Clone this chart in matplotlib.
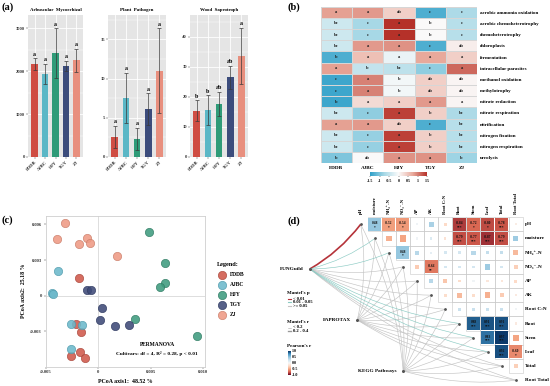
import numpy as np
import matplotlib
matplotlib.use("Agg")
import matplotlib.pyplot as plt
from matplotlib.colors import LinearSegmentedColormap, Normalize
from matplotlib.patches import Rectangle
from matplotlib.lines import Line2D
from matplotlib.path import Path
from matplotlib.patches import PathPatch
import matplotlib.cm as cm

plt.rcParams['font.family'] = ['Liberation Serif', 'DejaVu Serif']
plt.rcParams['font.weight'] = 'bold'
plt.rcParams['axes.titleweight'] = 'bold'

# ---------------- data ----------------
cultivars = ["FDDB", "AJBC", "HJY", "TGY", "ZJ"]
bar_colors = ["#CF4D43", "#5BB7C6", "#2F9B78", "#3C4C7C", "#E88F7E"]
pt_colors = ["#D0594B", "#6CB9CB", "#3E9B7E", "#3E4A78", "#EE9A84"]

am_mean = [2160, 1930, 2420, 2125, 2255]
am_err = [140, 240, 580, 115, 270]
am_letters = ["a", "a", "a", "a", "a"]
pp_mean = [2.6, 7.5, 2.3, 6.1, 11.0]
pp_err = [1.4, 3.2, 1.4, 2.0, 5.4]
pp_letters = ["a", "a", "a", "a", "a"]
ws_mean = [15.4, 15.5, 17.7, 26.5, 33.6]
ws_err = [3.4, 5.0, 4.0, 3.8, 9.3]
ws_letters = ["b", "b", "ab", "ab", "a"]

functions = ["aerobic ammonia oxidation", "aerobic chemoheterotrophy", "chemoheterotrophy",
             "chloroplasts", "fermentation", "intracellular parasites", "methanol oxidation",
             "methylotrophy", "nitrate reduction", "nitrate respiration", "nitrification",
             "nitrogen fixation", "nitrogen respiration", "ureolysis"]
heat_z = [
    [0.80, 0.85, 0.40, -1.30, -0.70],
    [-0.40, -0.75, 1.55, 0.00, -0.60],
    [-0.40, -0.75, 1.55, 0.00, -0.60],
    [-0.40, 0.85, 0.90, -1.30, 0.12],
    [-1.30, 0.55, -0.15, 0.75, 0.40],
    [0.80, -0.50, -0.55, -0.90, 1.15],
    [-1.40, 1.00, -0.08, 0.40, 0.05],
    [-1.40, 1.00, -0.08, 0.40, 0.05],
    [-1.40, 0.30, 0.40, 0.85, 0.05],
    [-0.40, -0.90, 1.40, 0.40, -0.70],
    [0.80, 0.85, 0.40, -1.30, -0.60],
    [-0.40, -0.85, 1.40, 0.40, -0.60],
    [-0.40, -0.85, 1.40, 0.40, -0.60],
    [-1.00, 0.00, 0.90, 0.90, -0.80],
]
heat_letters = [
    ["a", "a", "ab", "c", "c"],
    ["bc", "c", "a", "b", "c"],
    ["bc", "c", "a", "b", "c"],
    ["bc", "a", "a", "c", "ab"],
    ["b", "a", "a", "a", "a"],
    ["a", "b", "bc", "c", "a"],
    ["c", "a", "b", "ab", "ab"],
    ["c", "a", "b", "ab", "ab"],
    ["b", "a", "a", "a", "a"],
    ["bc", "c", "a", "b", "bc"],
    ["a", "a", "ab", "c", "bc"],
    ["bc", "c", "a", "b", "bc"],
    ["bc", "c", "a", "b", "bc"],
    ["b", "ab", "a", "a", "b"],
]

pcoa_x = {
    "FDDB": [-0.00182, -0.00208, -0.00160, -0.00176, -0.00255, -0.00129],
    "AJBC": [-0.00381, -0.00443, -0.00428, -0.00264, -0.00151, -0.00264],
    "HJY": [0.00484, 0.00632, 0.00632, 0.00588, 0.00352, 0.00940],
    "TGY": [-0.00107, -0.00066, 0.00038, 0.00013, 0.00157, 0.00296],
    "ZJ": [-0.00318, -0.00396, -0.00182, -0.00107, -0.00076, 0.00176],
}
pcoa_y = {
    "FDDB": [0.00151, -0.00236, -0.00303, -0.00471, -0.00505, -0.00527],
    "AJBC": [0.00207, 0.00025, 0.00011, -0.00236, -0.00247, -0.00451],
    "HJY": [0.00536, 0.00272, 0.00107, 0.00076, -0.00193, -0.00342],
    "TGY": [0.00048, 0.00048, -0.00107, -0.00202, -0.00252, -0.00247],
    "ZJ": [0.00614, 0.00474, 0.00432, 0.00482, 0.00446, 0.00336],
}

env_vars = ["pH", "moisture", "NH\u2084\u207a-N", "NO\u2083\u207b-N", "AP", "AK", "Root C:N",
            "Root", "Stem", "Leaf", "Total", "Root Total"]
corr_upper = [
    [0.48, -0.52, -0.54, 0.05, 0.40, -0.25, -0.84, -0.72, -0.80, -0.78, -0.10],
    [-0.45, -0.50, 0.05, 0.18, -0.18, -0.79, -0.77, -0.87, -0.79, 0.45],
    [0.48, 0.35, 0.12, 0.22, 0.22, 0.35, 0.30, 0.30, -0.40],
    [-0.32, -0.66, 0.22, 0.22, 0.22, 0.45, 0.22, -0.30],
    [0.35, -0.35, -0.22, 0.04, -0.15, -0.15, -0.25],
    [-0.22, -0.40, -0.22, -0.45, -0.32, -0.12],
    [0.28, 0.28, 0.28, 0.28, 0.04],
    [0.88, 0.91, 0.91, -0.12],
    [0.83, 0.97, -0.50],
    [0.92, -0.60],
    [-0.30],
]
sig_upper = [
    ["*", "*", "*", "", "", "", "***", "*", "*", "***", ""],
    ["", "", "", "", "", "***", "***", "***", "***", ""],
    ["*", "", "", "", "", "", "", "", ""],
    ["", "**", "", "", "", "", "", ""],
    ["", "", "", "", "", "", ""],
    ["", "", "", "", "", ""],
    ["", "", "", "", ""],
    ["***", "***", "***", ""],
    ["***", "***", ""],
    ["***", "*"],
    [""],
]
sources = ["FUNGuild", "FAPROTAX", "KEGG Pathways"]
# mantel category per source and env var: 0 = p<0.01, 1 = 0.01-0.05, 2 = >=0.05
mantel_p = [
    [0, 1, 1, 2, 2, 2, 2, 1, 1, 1, 2, 2],
    [2, 2, 2, 2, 2, 2, 2, 2, 2, 2, 2, 2],
    [2, 2, 2, 2, 2, 2, 2, 2, 2, 2, 2, 2],
]
mantel_r = [
    [1, 0, 0, 0, 0, 0, 0, 0, 0, 0, 0, 0],
    [0, 0, 0, 0, 0, 0, 0, 0, 0, 0, 0, 0],
    [0, 0, 0, 0, 0, 0, 0, 0, 0, 0, 0, 0],
]

# ---------------- figure ----------------
W, H = 550, 386
fig = plt.figure(figsize=(5.5, 3.86), dpi=100)


def box(x0, y0, x1, y1):
    return [x0 / W, 1 - y1 / H, (x1 - x0) / W, (y1 - y0) / H]


# panel labels
for lab, (px, py) in zip(["(a)", "(b)", "(c)", "(d)"], [(2, 7), (287, 7), (2, 220), (287, 221)]):
    fig.text(px / W, 1 - py / H, lab, fontsize=7.5, fontweight='bold', va='center', ha='left')

# ---------------- panel a ----------------
a_specs = [
    ((28, 83), "Arbuscular  Mycorrhizal", am_mean, am_err, am_letters, 3310, [0, 1000, 2000, 3000]),
    ((108, 166), "Plant  Pathogen", pp_mean, pp_err, pp_letters, 18.1, [0, 5, 10, 15]),
    ((190, 248), "Wood  Saprotroph", ws_mean, ws_err, ws_letters, 47.2, [0, 10, 20, 30, 40]),
]
xpos = np.arange(len(cultivars))
for (x0, x1), title, mean, err, letters, ymax, yt in a_specs:
    ax = fig.add_axes(box(x0, 15, x1, 157))
    ax.set_facecolor("#E5E5E5")
    for s in ax.spines.values():
        s.set_visible(False)
    ax.set_axisbelow(True)
    ax.set_yticks(yt)
    ax.set_yticks([(yt[k] + yt[k + 1]) / 2 for k in range(len(yt) - 1)] + [yt[-1] + (yt[1] - yt[0]) / 2], minor=True)
    ax.grid(True, which='major', color='white', lw=0.6)
    ax.grid(True, which='minor', axis='y', color='white', lw=0.3)
    ax.bar(xpos, mean, width=0.62, color=bar_colors, zorder=2)
    ax.errorbar(xpos, mean, yerr=err, fmt='none', ecolor='#3A3A3A', elinewidth=0.5,
                capsize=1.3, capthick=0.5, zorder=3)
    for xi, m, e, l in zip(xpos, mean, err, letters):
        ax.text(xi, m + e + ymax * 0.012, l, ha='center', va='bottom', fontsize=4.3, fontweight='bold')
    ax.set_ylim(0, ymax)
    ax.set_xlim(-0.62, 4.62)
    ax.set_xticks(xpos)
    ax.set_xticklabels(cultivars, rotation=45, ha='right', fontsize=3.3, rotation_mode='anchor')
    ax.tick_params(axis='both', length=1.2, width=0.3, pad=1, labelsize=3.3, colors='#333333', which='major')
    ax.tick_params(which='minor', length=0)
    ax.set_title(title, fontsize=3.5, fontweight='bold', pad=3)

# ---------------- panel b ----------------
heat_cmap = LinearSegmentedColormap.from_list("hb", ["#2E9FC8", "#A7D8E6", "#FAFAFA", "#E9AA9C", "#B53129"])
axb = fig.add_axes(box(320.7, 6.7, 477.3, 163.3))
Z = np.array(heat_z)
mesh = axb.pcolormesh(Z, cmap=heat_cmap, vmin=-1.5, vmax=1.5, edgecolors='#D6D6D6', linewidth=0.4)
axb.set_ylim(len(functions), 0)
for i in range(len(functions)):
    for j in range(len(cultivars)):
        axb.text(j + 0.5, i + 0.5, heat_letters[i][j], ha='center', va='center', fontsize=3.3,
                 fontweight='bold', color='#222222')
axb.set_xticks(np.arange(len(cultivars)) + 0.5)
axb.set_xticklabels(cultivars, fontsize=3.8, fontweight='bold')
axb.set_yticks(np.arange(len(functions)) + 0.5)
axb.set_yticklabels(functions, fontsize=3.6, fontweight='bold')
axb.yaxis.tick_right()
axb.tick_params(length=0, pad=2)
for s in axb.spines.values():
    s.set_visible(False)

cax = fig.add_axes(box(370, 172, 427, 176))
cb = fig.colorbar(mesh, cax=cax, orientation='horizontal', ticks=[-1.5, -1, -0.5, 0, 0.5, 1, 1.5])
cb.ax.set_xticklabels(["-1.5", "-1", "-0.5", "0", "0.5", "1", "1.5"])
cb.ax.tick_params(labelsize=3.0, length=0.8, width=0.3, pad=1)
cb.outline.set_visible(False)

# ---------------- panel c ----------------
axc = fig.add_axes(box(45.7, 215.7, 205, 366.7))
axc.axhline(0, color='#D8D8D8', lw=0.6, zorder=0)
axc.axvline(0, color='#D8D8D8', lw=0.6, zorder=0)
edge_cols = ["#A8463B", "#4F9AAB", "#2F7A62", "#2E3960", "#C97C68"]
for c, col, ec in zip(cultivars, pt_colors, edge_cols):
    axc.scatter(pcoa_x[c], pcoa_y[c], s=36, color=col, alpha=0.88, edgecolors=ec, linewidths=0.5,
                zorder=3, label=c)
axc.set_xlim(-0.0050, 0.01015)
axc.set_ylim(-0.00597, 0.00673)
axc.set_xticks([-0.005, 0, 0.005, 0.010])
axc.set_xticklabels(["-0.005", "0", "0.005", "0.010"])
axc.set_yticks([-0.003, 0, 0.003, 0.006])
axc.set_yticklabels(["-0.003", "0", "0.003", "0.006"])
axc.tick_params(labelsize=3.3, length=1.2, width=0.3, pad=1.5, colors='#333333')
for s in axc.spines.values():
    s.set_color('#CFCFCF')
    s.set_linewidth(0.6)
axc.set_xlabel("PCoA axis1:  48.52 %", fontsize=4.2, fontweight='bold', labelpad=3)
axc.set_ylabel("PCoA axis2:  25.18 %", fontsize=4.2, fontweight='bold', labelpad=3)
axc.text(0.70, 0.135, "PERMANOVA", transform=axc.transAxes, ha='center', fontsize=4.0, fontweight='bold')
axc.text(0.70, 0.075, "Cultivars: df = 4, R\u00b2 = 0.28, p < 0.01",
         transform=axc.transAxes, ha='center', fontsize=3.8, fontweight='bold')
leg = axc.legend(title="Legend:", loc='center left', bbox_to_anchor=(1.05, 0.51), frameon=False,
                 fontsize=4.0, title_fontsize=4.5, markerscale=1.0, handletextpad=0.3,
                 labelspacing=0.9, borderpad=0.2)
leg.get_title().set_fontweight('bold')
leg._legend_box.align = "left"

# ---------------- panel d ----------------
axd = fig.add_axes(box(270, 195, 550, 386))
axd.set_xlim(-6.43, 13.43)
axd.set_ylim(11.41, -2.07)
axd.axis('off')
n = len(env_vars)
div_cmap = LinearSegmentedColormap.from_list("pd", ["#67001F", "#D6604D", "#F4A582", "#FDDBC7", "#F7F7F7",
                                                    "#D1E5F0", "#92C5DE", "#4393C3", "#053061"])
norm = Normalize(-1, 1)

for i in range(n - 1):
    for j in range(i + 1, n):
        axd.add_patch(Rectangle((j - 0.5, i - 0.5), 1, 1, fill=False, ec='#C8C8C8', lw=0.4, zorder=1))
        r = corr_upper[i][j - i - 1]
        sig = sig_upper[i][j - i - 1]
        side = 0.92 if sig else max(0.15, abs(r) * 0.85)
        axd.add_patch(Rectangle((j - side / 2, i - side / 2), side, side, fc=div_cmap(norm(r)),
                                ec='none', zorder=2))
        if sig:
            axd.text(j, i - 0.08, f"{r:.2f}", ha='center', va='center', fontsize=2.6,
                     fontweight='bold', color='#111111', zorder=3)
            axd.text(j, i + 0.22, sig, ha='center', va='center', fontsize=2.6,
                     fontweight='bold', color='#111111', zorder=3)

for k, name in enumerate(env_vars):
    axd.text(n - 0.35, k, name, ha='left', va='center', fontsize=3.8, fontweight='bold')
    axd.text(k, -0.7, name, ha='center', va='bottom', fontsize=3.4, fontweight='bold', rotation=90)

src_pos = [(-3.6, 3.15), (-0.24, 6.75), (3.02, 10.35)]
p_colors = ["#B5333A", "#8CCBC4", "#C4C4C4"]
r_widths = [0.45, 1.2]
for si, (sx, sy) in enumerate(src_pos):
    for k in range(n):
        tx, ty = k, k
        mx, my = (sx + tx) / 2, (sy + ty) / 2
        dx, dy = tx - sx, ty - sy
        ctrl = (mx - 0.1 * dy, my + 0.1 * dx)
        pth = Path([(sx, sy), ctrl, (tx, ty)], [Path.MOVETO, Path.CURVE3, Path.CURVE3])
        pc = mantel_p[si][k]
        axd.add_patch(PathPatch(pth, fc='none', ec=p_colors[pc], lw=r_widths[mantel_r[si][k]],
                                zorder=0.5 if pc == 2 else 0.8))
    axd.plot([sx], [sy], 'o', ms=1.2, color='#555555', zorder=4)
    axd.text(sx - 0.45, sy, sources[si], ha='right', va='center', fontsize=3.8, fontweight='bold')
axd.plot(range(n), range(n), 'o', ms=1.0, color='#555555', lw=0, zorder=4)

fig.text(287 / W, 1 - 293 / H, "Mantel's p", fontsize=3.6, fontweight='bold', va='center')
for k, lab in enumerate(["< 0.01", "0.01 - 0.05", ">= 0.05"]):
    yy = 298.5 + k * 3.6
    fig.add_artist(Line2D([288 / W, 291 / W], [1 - yy / H] * 2, color=p_colors[k], lw=0.8))
    fig.text(293 / W, 1 - yy / H, lab, fontsize=3.3, fontweight='bold', va='center')
fig.text(287 / W, 1 - 322 / H, "Mantel's r", fontsize=3.6, fontweight='bold', va='center')
for k, lab in enumerate(["< 0.2", "0.2 - 0.4"]):
    yy = 327.5 + k * 3.6
    fig.add_artist(Line2D([288 / W, 291 / W], [1 - yy / H] * 2, color='#999999', lw=r_widths[k] * 0.8))
    fig.text(293 / W, 1 - yy / H, lab, fontsize=3.3, fontweight='bold', va='center')
fig.text(287 / W, 1 - 346 / H, "Pearson's r", fontsize=3.6, fontweight='bold', va='center')
cax2 = fig.add_axes(box(288, 351, 291, 375))
cb2 = fig.colorbar(cm.ScalarMappable(norm=norm, cmap=div_cmap), cax=cax2, ticks=[-1, -0.5, 0, 0.5, 1])
cb2.ax.set_yticklabels(["-1.0", "-0.5", "0.0", "0.5", "1.0"])
cb2.ax.tick_params(labelsize=3.0, length=0, pad=0.8)
cb2.outline.set_visible(False)

fig.savefig("out.png", dpi=100)
